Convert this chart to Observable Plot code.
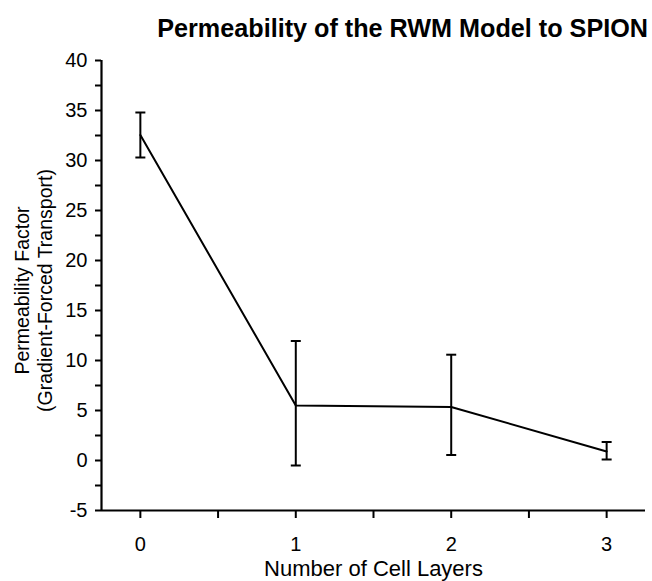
<!DOCTYPE html>
<html>
<head>
<meta charset="utf-8">
<script src="https://cdn.jsdelivr.net/npm/d3@7"></script>
<script src="https://cdn.jsdelivr.net/npm/@observablehq/plot@0.6"></script>
<style>
  body { margin: 0; background: #fff; font-family: "Liberation Sans", Arial, Helvetica, sans-serif; }
  #title { height: 40px; width: 652px; box-sizing: border-box; padding-right: 4px; text-align: right;
           font-weight: bold; font-size: 25.2px; line-height: 56px; color: #000; white-space: nowrap; }
  svg { display: block; }
</style>
</head>
<body>
<div id="title">Permeability of the RWM Model to SPION</div>
<div id="chart"></div>
<script>
const layers = [0, 1, 2, 3];
const means  = [32.55, 5.5, 5.35, 0.9];
const lower  = [30.3, -0.5, 0.55, 0.1];
const upper  = [34.8, 11.95, 10.58, 1.85];

const xDomain = [-0.25, 3.25];
const yDomain = [-5, 40];
const xMajor = [0, 1, 2, 3];
const xMinor = [0.5, 1.5, 2.5];
const yMajor = [-5, 0, 5, 10, 15, 20, 25, 30, 35, 40];
const yMinor = [-2.5, 2.5, 7.5, 12.5, 17.5, 22.5, 27.5, 32.5, 37.5];

const data = layers.map((x, i) => ({x, mean: means[i], lo: lower[i], hi: upper[i]}));

const capSymbol = {
  draw(context, size) {
    const r = 5;
    context.moveTo(-r, 0);
    context.lineTo(r, 0);
  }
};

const font = "Liberation Sans, Arial, Helvetica, sans-serif";

const chart = Plot.plot({
  width: 652,
  height: 541,
  marginTop: 20,
  marginBottom: 71,
  marginLeft: 101,
  marginRight: 7,
  style: {fontFamily: font, fontSize: "20px", color: "#000", background: "#fff"},
  x: {domain: xDomain, axis: null},
  y: {domain: yDomain, axis: null},
  marks: [
    Plot.axisY(yMajor, {tickSize: 6, tickPadding: 8, fontSize: 20, strokeWidth: 2, label: null, tickFormat: d => String(d)}),
    Plot.axisY(yMinor, {tickSize: 6, strokeWidth: 2, tickFormat: () => "", label: null}),
    Plot.axisX(xMajor, {tickSize: 8, tickPadding: 18, fontSize: 20, strokeWidth: 2, label: null, tickFormat: d => String(d)}),
    Plot.axisX(xMinor, {tickSize: 8, strokeWidth: 2, tickFormat: () => "", label: null}),
    Plot.ruleX([xDomain[0]], {strokeWidth: 2.2, stroke: "#000"}),
    Plot.ruleY([yDomain[0]], {strokeWidth: 2.2, stroke: "#000"}),
    Plot.line(data, {x: "x", y: "mean", stroke: "#000", strokeWidth: 2}),
    Plot.ruleX(data, {x: "x", y1: "lo", y2: "hi", stroke: "#000", strokeWidth: 2}),
    Plot.dot(data, {x: "x", y: "lo", symbol: capSymbol, stroke: "#000", strokeWidth: 2, fill: "none"}),
    Plot.dot(data, {x: "x", y: "hi", symbol: capSymbol, stroke: "#000", strokeWidth: 2, fill: "none"}),
    Plot.text(["Permeability Factor\n(Gradient-Forced Transport)"], {
      frameAnchor: "left", textAnchor: "middle", lineAnchor: "middle", rotate: -90,
      dx: -68, dy: 5, fontSize: 19.5, lineHeight: 1.15, fill: "#000"
    }),
    Plot.text(["Number of Cell Layers"], {
      frameAnchor: "bottom", lineAnchor: "middle", dy: 58, fontSize: 22, fill: "#000"
    })
  ]
});
document.getElementById("chart").appendChild(chart);
</script>
</body>
</html>
